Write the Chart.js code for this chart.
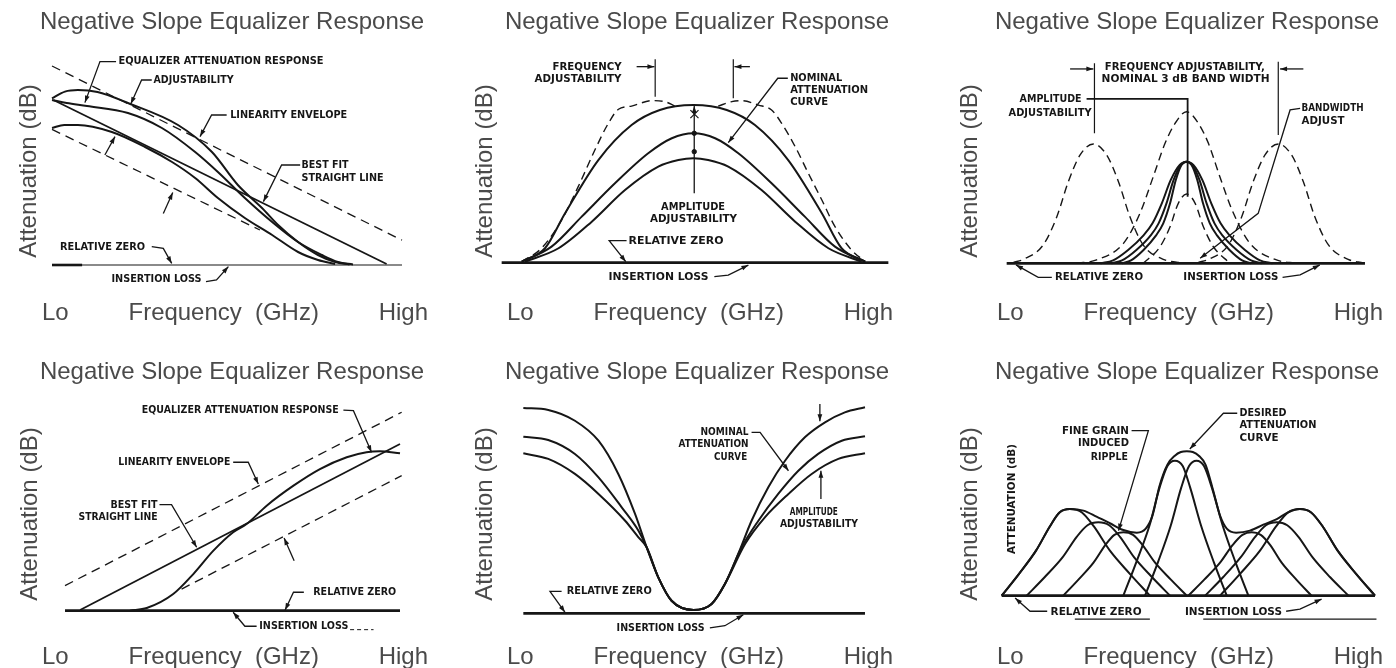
<!DOCTYPE html>
<html>
<head>
<meta charset="utf-8">
<title>Negative Slope Equalizer Response</title>
<script src="https://cdn.jsdelivr.net/npm/chart.js@4.4.1/dist/chart.umd.min.js"></script>
<style>
    html, body { margin: 0; padding: 0; background: #fff; overflow: hidden; width: 1396px; height: 668px; }
    canvas { position: absolute; }
</style>
</head>
<body>
<canvas id="p1" width="464" height="334" style="left:0;top:0"></canvas>
<canvas id="p2" width="464" height="334" style="left:465px;top:0"></canvas>
<canvas id="p3" width="464" height="334" style="left:955px;top:0"></canvas>
<canvas id="p4" width="464" height="340" style="left:0;top:334px"></canvas>
<canvas id="p5" width="464" height="340" style="left:465px;top:334px"></canvas>
<canvas id="p6" width="464" height="340" style="left:955px;top:334px"></canvas>

<script>
    const INK = '#161616';
    const GREY = '#4a4a4a';
    const FONT = '"Liberation Sans", Arial, Helvetica, sans-serif';
    const NOTE_FONT = 'bold 11px "DejaVu Sans", "Liberation Sans", sans-serif';
    const TITLE = 'Negative Slope Equalizer Response';
    const X_TITLE = 'Lo' + ' '.repeat(9) + 'Frequency  (GHz)' + ' '.repeat(9) + 'High';
    const Y_TITLE = 'Attenuation (dB)';

    // all values: relative frequency 0..100 (x), relative attenuation above insertion loss (y)

    // panel 1 - falling response
    const p1EnvHigh = [[0, 99.5], [100, 12.4]];
    const p1EnvLow = [[0, 67.8], [59.4, 17.5]];
    const p1AdjHigh = [[0,83.3],[3.7,86.7],[7.4,87.5],[13,86.5],[21.7,81],[36,70],[45.7,56.5],[53.1,40],[60,28.5],[64.6,20],[70.3,11.5],[76,5],[80.9,1.5],[85,0.3]];
    const p1Nominal = [[0,82.5],[4.2,81],[10,79.5],[21.7,76],[31.4,68.5],[40.9,56.5],[47.4,46.5],[55.1,33.5],[62.9,21.5],[70.3,11.5],[77.1,5],[81.7,1.5],[86,0.3]];
    const p1AdjLow = [[0,68.5],[3.5,70],[7.4,70],[17.1,66.5],[26.6,59],[34.3,51.5],[40.9,43.5],[47.4,33.5],[55.1,23.5],[62.9,15],[70.3,6.5],[76,2.5],[80.9,0.5]];
    const p1BestFit = [[0.4, 82.5], [95.6, 0.5]];
    const p1Zero = [[0, 0], [100, 0]];
    const p1ZeroMark = [[0, 0], [8.6, 0]];

    // panel 2 - band response
    const p2High = [[5.2,0.5],[11.2,7.2],[16.4,24.7],[25,51.3],[33.6,68.8],[40.9,76.3],[49.6,78.8],[58.2,76.3],[65.5,68.8],[74.1,51.3],[82.8,24.7],[87.9,7.2],[94,0.5]];
    const p2Mid = [[5.2,0.5],[12.9,8],[20.7,23],[29.3,39.7],[37.9,54.7],[44,62.2],[49.6,64.7],[55.2,62.2],[61.2,54.7],[69.8,39.7],[78.4,23],[86.2,8],[94,0.5]];
    const p2Low = [[6,0.5],[14.7,7.2],[23.3,20.5],[31.9,36.3],[40.5,48],[45.7,51.3],[49.6,52.2],[53.4,51.3],[58.6,48],[67.2,36.3],[75.9,20.5],[84.5,7.2],[93.1,0.5]];
    const p2ShiftLeft = [[5.2,0.5],[10.3,7.2],[15.5,21.3],[19.8,38],[24.1,56.3],[27.6,69.7],[30.2,76.7],[33.6,78.3],[38.8,81],[42.2,80.5],[44.8,78.3]];
    const p2ShiftRight = [[56,78.3],[59.5,80.5],[62.1,81],[66.4,78.8],[69.8,76.3],[72.4,69.7],[75.9,58],[79.3,44.7],[82.8,31.3],[86.2,18],[90.5,6.3],[94,0.5]];
    const p2FreqLeft = [[39.7, 101.7], [39.7, 83]];
    const p2FreqRight = [[59.9, 101.7], [59.9, 82.2]];
    const p2Cross1 = [[48.8, 76.3], [50.9, 72.3]];
    const p2Cross2 = [[48.8, 72.3], [50.9, 76.3]];
    const p2Dots = [[49.8, 64.7], [49.8, 55.5]];
    const p2Zero = [[0, 0], [100, 0]];

    // panel 3 - tunable bandpass
    const p3BandLeft = [[1.9,0.5],[4.7,2],[10.2,9.2],[14,23.3],[17.2,40.8],[20.5,54.2],[24.2,59.7],[27.9,54.2],[31.2,40.8],[34.4,23.3],[38.1,9.2],[43.7,2],[49.3,0.2]];
    const p3BandMid = [[19.5,0],[25.1,1.7],[32.6,10],[37.2,25],[40.9,43.3],[44.2,60],[47,70],[50.2,75.8],[53.5,70],[56.3,60],[59.5,43.3],[63.3,25],[67.9,10],[75.3,1.7],[80.9,0]];
    const p3BandRight = [[53.5,0.5],[56.3,2],[61.9,9.2],[65.6,23.3],[68.8,40.8],[72.1,54.2],[75.8,59.7],[79.5,54.2],[82.8,40.8],[86,23.3],[89.8,9.2],[95.3,2],[99.5,0.2]];
    const p3Wide = [[26.2,0],[29.7,1.5],[33.9,6.7],[38.2,14],[40.7,20],[43.3,30],[45.8,41.7],[48.3,49.2],[50.2,50.8],[52.1,49.2],[54.6,41.7],[57.1,30],[59.7,20],[62.2,14],[66.5,6.7],[70.7,1.5],[74.2,0]];
    const p3Medium = [[29.2,0],[32.2,1.5],[36.2,6.7],[40.2,14],[42.4,20],[44.6,30],[46.6,41.7],[48.6,49.2],[50.2,50.8],[51.8,49.2],[53.8,41.7],[55.8,30],[58,20],[60.2,14],[64.2,6.7],[68.2,1.5],[71.2,0]];
    const p3Narrow = [[32.2,0],[34.7,1.5],[38.2,6.7],[41.7,14],[43.7,20],[45.6,30],[47.2,41.7],[48.8,49.2],[50.2,50.8],[51.6,49.2],[53.2,41.7],[54.8,30],[56.7,20],[58.7,14],[62.2,6.7],[65.7,1.5],[68.2,0]];
    const p3Low = [[38.1,0],[42.8,8.3],[45.6,18.3],[47.9,30],[50.2,34.7],[52.6,30],[54.9,18.3],[57.7,8.3],[62.3,0]];
    const p3FreqLeft = [[24.5, 100], [24.5, 65]];
    const p3FreqRight = [[75.8, 100.8], [75.8, 64.2]];
    const p3Amp = [[22.3, 82.2], [50.5, 82.2], [50.5, 33.3]];
    const p3Zero = [[0, 0], [100, 0]];

    // panel 4 - rising response
    const p4EnvHigh = [[0, 12.5], [100.5, 99.2]];
    const p4EnvLow = [[34.8, 10.8], [100.5, 67.5]];
    const p4BestFit = [[4.5, 0.3], [100, 83.3]];
    const p4Response = [[19.4,0],[24.4,1.3],[32.3,8.3],[38.3,18.3],[44.3,30],[50.2,39.2],[54.2,43.3],[60.2,52.5],[68.2,62.5],[76.1,70.8],[84.1,76.7],[90,79.2],[94,79.7],[100,78.7]];
    const p4Tail = [[85.1, -9.5], [92.1, -9.5]];
    const p4Zero = [[0, 0], [100, 0]];

    // panel 5 - notch response
    const p5High = [[0,102.7],[7.3,101.7],[15.1,96.3],[22,86.3],[27.8,69.7],[32.7,49.7],[36.1,33],[39.5,18],[43.4,6.3],[49.8,1.7],[55.1,4.7],[59,14.7],[62.9,29.7],[66.8,46.3],[71.7,63],[76.6,76.3],[82.4,88],[88.3,95.5],[94.1,100.5],[100,103]];
    const p5Nominal = [[0,88.3],[7.3,86.7],[15.1,79.7],[22,68],[28.8,53],[33.7,41.3],[36.1,33],[39.5,18],[43.4,6.3],[49.8,1.7],[55.1,4.7],[59,14.7],[63.9,33],[68.8,46.3],[74.6,59.7],[80.5,71.3],[86.3,79.7],[93.2,86.3],[100,88.5]];
    const p5Low = [[0,80],[7.3,77.2],[15.1,69.7],[22,59.7],[29.8,46.3],[33.7,38],[36.1,33],[39.5,18],[43.4,6.3],[49.8,1.7],[55.1,4.7],[59,14.7],[64.9,34.7],[70.7,48],[77.6,59.7],[84.4,69.7],[92.2,77.2],[100,80]];
    const p5Zero = [[0, 0], [100, 0]];

    // panel 6 - ripple from stacked sections
    const p6Envelope = [[0,0],[4.6,10.8],[9.2,22.5],[12.9,34.6],[15.5,41.6],[18.3,43.3],[21.9,42.5],[25.4,39.5],[29,36.2],[32.6,32.8],[36.2,31.5],[38.6,33.5],[40.4,40],[42.3,55],[44.4,65.5],[46.4,70],[48,71.8],[49.6,72.2],[51.2,71.8],[52.8,70],[54.6,65.5],[56.6,53],[58.5,40],[60.3,33.5],[62.8,31.5],[66.5,32.5],[70.1,35.5],[73.7,38.3],[76.8,41.7],[79.9,43.3],[82.9,41.6],[86,34.6],[90,22.5],[95,10.8],[100,0]];
    const p6Sec1 = [[0,0],[4.6,10.8],[9.2,22.5],[12.9,34.6],[15.5,41.6],[18.3,43.3],[21.5,41.6],[24.7,34.6],[29,22.5],[34.4,10.8],[39.7,0]];
    const p6Sec2 = [[6.7,0],[11.5,9.2],[16.3,19.1],[20.1,29.4],[23,35.2],[25.9,36.7],[28.8,35.2],[31.7,29.4],[35.5,19.1],[40.3,9.2],[45.1,0]];
    const p6Sec3 = [[16.5,0],[20.5,7.9],[24.6,16.5],[27.8,25.4],[30.2,30.4],[32.6,31.7],[35.2,30.4],[37.7,25.4],[41.1,16.5],[45.4,7.9],[49.6,0]];
    const p6Sec4 = [[32.6,0],[36.1,16.9],[39.6,35.1],[42.3,54],[44.4,64.8],[46.4,67.5],[48.5,64.8],[50.5,54],[53.4,35.1],[56.8,16.9],[60.3,0]];
    const p6Sec5 = [[38.4,0],[41.9,16.9],[45.3,35.1],[48.1,54],[50.2,64.8],[52.2,67.5],[54.2,64.8],[56.3,54],[59.2,35.1],[62.6,16.9],[66.1,0]];
    const p6Sec6 = [[50,0],[54.2,7.9],[58.5,16.5],[61.9,25.4],[64.5,30.4],[67,31.7],[69.4,30.4],[71.9,25.4],[75,16.5],[79,7.9],[83,0]];
    const p6Sec7 = [[54.5,0],[59.3,9.2],[64,19.1],[67.9,29.4],[70.8,35.2],[73.7,36.7],[76.5,35.2],[79.5,29.4],[83.3,19.1],[88,9.2],[92.9,0]];
    const p6Sec8 = [[58.5,0],[63.8,10.8],[69.2,22.5],[73.5,34.6],[76.7,41.6],[79.9,43.3],[82.9,41.6],[86,34.6],[90,22.5],[95,10.8],[100,0]];
    const p6RuleLeft = [[19.6, -11.7], [39.7, -11.7]];
    const p6RuleRight = [[54, -11.7], [100.4, -11.7]];
    const p6Zero = [[0, 0], [100, 0]];

    // callouts: [text, x, y, width px, align, vertical]
    const p1Notes = [
        ['EQUALIZER ATTENUATION RESPONSE', 19, 101.7, 205],
        ['ADJUSTABILITY', 29, 92.5, 80],
        ['LINEARITY ENVELOPE', 50.9, 75, 117],
        ['BEST FIT', 71.3, 50, 47],
        ['STRAIGHT LINE', 71.3, 43.3, 82],
        ['RELATIVE ZERO', 2.3, 8.8, 85],
        ['INSERTION LOSS', 17, -7.2, 90]
    ];
    const p1Leaders = [
        [[18.3,101.7],[13.7,101.7],[9.4,81.2]],
        [[28.5,92.5],[25.6,92.5],[22.5,80.5]],
        [[15.1,55],[18,64.2]],
        [[49.9,75],[45.6,75],[42.3,64.2]],
        [[31.8,25.8],[34.5,36.2]],
        [[70.9,50],[65.6,50],[60.4,31.7]],
        [[28.5,9.2],[31.8,8.3],[34.2,0.8]],
        [[44,-8.3],[47,-7.5],[50.4,-0.8]]
    ];
    const p2Notes = [
        ['FREQUENCY', 31, 98, 69, 'right'],
        ['ADJUSTABILITY', 31, 91.8, 87, 'right'],
        ['NOMINAL', 74.6, 92.2, 52],
        ['ATTENUATION', 74.6, 86.3, 78],
        ['CURVE', 74.6, 80.5, 38],
        ['AMPLITUDE', 49.5, 27.7, 64, 'center'],
        ['ADJUSTABILITY', 49.6, 21.8, 87, 'center'],
        ['RELATIVE ZERO', 32.8, 11, 95],
        ['INSERTION LOSS', 27.6, -7, 100]
    ];
    const p2Leaders = [
        [[34.9,98],[39.5,98]],
        [[64.2,98],[60.2,98]],
        [[74,92.2],[71.4,92.2],[58.6,60]],
        [[49.8,34.7],[49.8,78.3]],
        [[32.3,11],[27.8,11],[32.1,0.5]],
        [[55,-7],[58.6,-6.2],[63.8,-1.2]]
    ];
    const p3Notes = [
        ['FREQUENCY ADJUSTABILITY,', 27.4, 98.3, 160],
        ['NOMINAL 3 dB BAND WIDTH', 26.5, 92, 168],
        ['AMPLITUDE', 20.9, 82, 62, 'right'],
        ['ADJUSTABILITY', 23.7, 75.3, 83, 'right'],
        ['BANDWIDTH', 82.3, 77.5, 62],
        ['ADJUST', 82.3, 71.3, 43],
        ['RELATIVE ZERO', 13.5, -7, 88],
        ['INSERTION LOSS', 49.3, -7, 95]
    ];
    const p3Leaders = [
        [[17.7,97.2],[24.2,97.2]],
        [[82.8,97.2],[76.3,97.2]],
        [[81.9,77.5],[79.1,76.7],[70.2,25],[54,2.5]],
        [[12.6,-7],[8.8,-7],[2.6,-0.8]],
        [[77,-7],[81.9,-5.8],[87.4,-0.8]]
    ];
    const p4Notes = [
        ['EQUALIZER ATTENUATION RESPONSE', 22.9, 100.3, 197],
        ['LINEARITY ENVELOPE', 15.9, 74.2, 112],
        ['BEST FIT', 27.6, 53, 47, 'right'],
        ['STRAIGHT LINE', 27.6, 46.7, 79, 'right'],
        ['RELATIVE ZERO', 74.1, 9.2, 83],
        ['INSERTION LOSS', 58, -7.5, 89]
    ];
    const p4Leaders = [
        [[83.1,100.3],[86.1,100],[91.5,79.2]],
        [[50.2,74.2],[54.7,74.2],[57.7,63.3]],
        [[28.2,53],[31.8,53],[39.3,31.7]],
        [[68.4,25],[65.4,36.3]],
        [[71.3,9.2],[68.2,9.2],[65.7,0.3]],
        [[57.2,-7.8],[53.7,-7.8],[50.2,-0.8]]
    ];
    const p5Notes = [
        ['NOMINAL', 65.9, 90.5, 48, 'right'],
        ['ATTENUATION', 65.9, 84.7, 70, 'right'],
        ['CURVE', 65.5, 78.3, 33, 'right'],
        ['AMPLITUDE', 78, 50.8, 48],
        ['ADJUSTABILITY', 75.1, 44.7, 78],
        ['RELATIVE ZERO', 12.7, 11, 85],
        ['INSERTION LOSS', 27.3, -7.3, 88]
    ];
    const p5Leaders = [
        [[66.8,90.5],[69.3,90.5],[77.6,71.3]],
        [[86.8,104.7],[86.8,96]],
        [[87.1,57.2],[87.1,71.3]],
        [[11.2,11],[7.8,11],[12.2,0.5]],
        [[54.6,-7.3],[59,-6.2],[64.4,-0.7]]
    ];
    const p6Notes = [
        ['FINE GRAIN', 34.1, 82.5, 67, 'right'],
        ['INDUCED', 34.1, 76.2, 51, 'right'],
        ['RIPPLE', 33.8, 69.5, 37, 'right'],
        ['DESIRED', 63.7, 91.2, 47],
        ['ATTENUATION', 63.7, 85.5, 77],
        ['CURVE', 63.7, 78.8, 39],
        ['RELATIVE ZERO', 13.1, -8, 91],
        ['INSERTION LOSS', 49.1, -8, 97],
        ['ATTENUATION (dB)', 2.7, 48.3, 110, 'center', true]
    ];
    const p6Leaders = [
        [[34.8,82.5],[39.3,82.5],[31.3,32.5]],
        [[63.1,91.2],[59.4,91.2],[50.4,73.3]],
        [[12.2,-7.8],[7.6,-7.8],[3.6,-1.2]],
        [[76.2,-7.8],[79.9,-6.7],[85.7,-1.7]]
    ];

    const LOOK = {
        curve: {borderWidth: 2, cubicInterpolationMode: 'monotone'},
        line: {borderWidth: 1.8, tension: 0},
        dash: {borderWidth: 1.3, borderDash: [9, 6], tension: 0},
        dots3: {borderWidth: 1, borderDash: [4, 3], tension: 0},
        dashCurve: {borderWidth: 1.4, borderDash: [8, 5], cubicInterpolationMode: 'monotone'},
        zero: {borderWidth: 2.6, tension: 0},
        thin: {borderWidth: 1.2, tension: 0},
        dots: {showLine: false, pointRadius: 2.2}
    };

    const rows = {
        top: {titleTop: 8.1, titleBottom: 9.1, xHeight: 38, xPad: 6.6},
        bottom: {titleTop: 23.9, titleBottom: 9.3, xHeight: 42, xPad: 2.3}
    };

    const panels = [
        {id: 'p1', row: rows.top, xr: [-2.86, 107.43], yr: [-15.5, 109.5], yPad: 14.6,
         notes: p1Notes, leaders: p1Leaders,
         series: [[p1EnvHigh, 'dash'], [p1EnvLow, 'dash'], [p1AdjHigh, 'curve'], [p1Nominal, 'curve'],
                  [p1AdjLow, 'curve'], [p1BestFit, 'line'], [p1Zero, 'thin'], [p1ZeroMark, 'zero']]},
        {id: 'p2', row: rows.top, xr: [1.38, 101.2], yr: [-16.67, 108.33], yPad: 5.6,
         notes: p2Notes, leaders: p2Leaders,
         series: [[p2ShiftLeft, 'dashCurve'], [p2ShiftRight, 'dashCurve'], [p2High, 'curve'], [p2Mid, 'curve'],
                  [p2Low, 'curve'], [p2FreqLeft, 'thin'], [p2FreqRight, 'thin'], [p2Cross1, 'thin'],
                  [p2Cross2, 'thin'], [p2Dots, 'dots'], [p2Zero, 'zero']]},
        {id: 'p3', row: rows.top, xr: [-2.7, 105.03], yr: [-16.33, 108.67], yPad: 0.6,
         notes: p3Notes, leaders: p3Leaders,
         series: [[p3BandLeft, 'dashCurve'], [p3BandMid, 'dashCurve'], [p3BandRight, 'dashCurve'],
                  [p3Wide, 'curve'], [p3Medium, 'curve'], [p3Narrow, 'curve'], [p3Low, 'dashCurve'],
                  [p3FreqLeft, 'thin'], [p3FreqRight, 'thin'], [p3Amp, 'line'], [p3Zero, 'zero']]},
        {id: 'p4', row: rows.bottom, xr: [-6.87, 108.36], yr: [-10.67, 107.33], yPad: 15.6,
         notes: p4Notes, leaders: p4Leaders,
         series: [[p4EnvHigh, 'dash'], [p4EnvLow, 'dash'], [p4BestFit, 'line'], [p4Response, 'curve'],
                  [p4Tail, 'dots3'], [p4Zero, 'zero']]},
        {id: 'p5', row: rows.bottom, xr: [-4.78, 108.2], yr: [-9.33, 108.67], yPad: 5.6,
         notes: p5Notes, leaders: p5Leaders,
         series: [[p5High, 'curve'], [p5Nominal, 'curve'], [p5Low, 'curve'], [p5Zero, 'zero']]},
        {id: 'p6', row: rows.bottom, xr: [-1.25, 102.15], yr: [-18.17, 99.83], yPad: 0.6,
         notes: p6Notes, leaders: p6Leaders,
         series: [[p6Sec1, 'curve'], [p6Sec2, 'curve'], [p6Sec3, 'curve'], [p6Sec4, 'curve'], [p6Sec5, 'curve'],
                  [p6Sec6, 'curve'], [p6Sec7, 'curve'], [p6Sec8, 'curve'], [p6Envelope, 'curve'],
                  [p6RuleLeft, 'thin'], [p6RuleRight, 'thin'], [p6Zero, 'zero']]}
    ];

    function toDataset([pts, kind]) {
        return Object.assign({
            data: pts.map(([x, y]) => ({x, y})),
            borderColor: INK,
            backgroundColor: INK,
            pointRadius: 0,
            fill: false,
            clip: false
        }, LOOK[kind]);
    }

    // leader lines with arrow heads and the hand lettered callouts
    function notesFor(p) {
        return {
            id: 'notes',
            afterDatasetsDraw(chart) {
                const ctx = chart.ctx;
                const sx = chart.scales.x, sy = chart.scales.y;
                ctx.save();
                ctx.strokeStyle = INK;
                ctx.fillStyle = INK;
                ctx.lineWidth = 1.3;
                p.leaders.forEach(path => {
                    const pts = path.map(v => [sx.getPixelForValue(v[0]), sy.getPixelForValue(v[1])]);
                    ctx.beginPath();
                    pts.forEach((pt, i) => i ? ctx.lineTo(pt[0], pt[1]) : ctx.moveTo(pt[0], pt[1]));
                    ctx.stroke();
                    const a = pts[pts.length - 2], b = pts[pts.length - 1];
                    const ang = Math.atan2(b[1] - a[1], b[0] - a[0]);
                    const c = Math.cos(ang), s = Math.sin(ang);
                    ctx.beginPath();
                    ctx.moveTo(b[0], b[1]);
                    ctx.lineTo(b[0] - 7 * c + 2.4 * s, b[1] - 7 * s - 2.4 * c);
                    ctx.lineTo(b[0] - 7 * c - 2.4 * s, b[1] - 7 * s + 2.4 * c);
                    ctx.closePath();
                    ctx.fill();
                });
                ctx.font = NOTE_FONT;
                ctx.textBaseline = 'middle';
                p.notes.forEach(([text, vx, vy, w, align, vertical]) => {
                    const m = ctx.measureText(text).width;
                    ctx.save();
                    ctx.translate(sx.getPixelForValue(vx), sy.getPixelForValue(vy));
                    if (vertical) ctx.rotate(-Math.PI / 2);
                    ctx.scale(w / m, 1);
                    ctx.textAlign = align || 'left';
                    ctx.fillText(text, 0, 0);
                    ctx.restore();
                });
                ctx.restore();
            }
        };
    }

    function hiddenAxis(extra) {
        return Object.assign({
            type: 'linear',
            grid: {display: false, drawTicks: false},
            border: {display: false},
            ticks: {display: false}
        }, extra);
    }

    function drawPanel(p) {
        const row = p.row;
        const labelFont = {family: FONT, size: 24, weight: 'normal'};
        new Chart(document.getElementById(p.id), {
            type: 'line',
            data: {datasets: p.series.map(toDataset)},
            options: {
                responsive: false,
                animation: false,
                events: [],
                plugins: {
                    legend: {display: false},
                    tooltip: {enabled: false},
                    title: {
                        display: true,
                        text: TITLE,
                        color: GREY,
                        font: labelFont,
                        padding: {top: row.titleTop, bottom: row.titleBottom}
                    }
                },
                scales: {
                    x: hiddenAxis({
                        min: p.xr[0], max: p.xr[1],
                        title: {display: true, text: X_TITLE, color: GREY, font: labelFont,
                                padding: {top: 0, bottom: row.xPad}},
                        afterFit: s => { s.height = row.xHeight; }
                    }),
                    y: hiddenAxis({
                        min: p.yr[0], max: p.yr[1],
                        title: {display: true, text: Y_TITLE, color: GREY, font: labelFont,
                                padding: {top: p.yPad, bottom: 0}},
                        afterFit: s => { s.width = 42; }
                    }),
                    y2: hiddenAxis({
                        position: 'right',
                        display: true,
                        afterFit: s => { s.width = 36; }
                    })
                }
            },
            plugins: [notesFor(p)]
        });
    }

    panels.forEach(drawPanel);
</script>
</body>
</html>
